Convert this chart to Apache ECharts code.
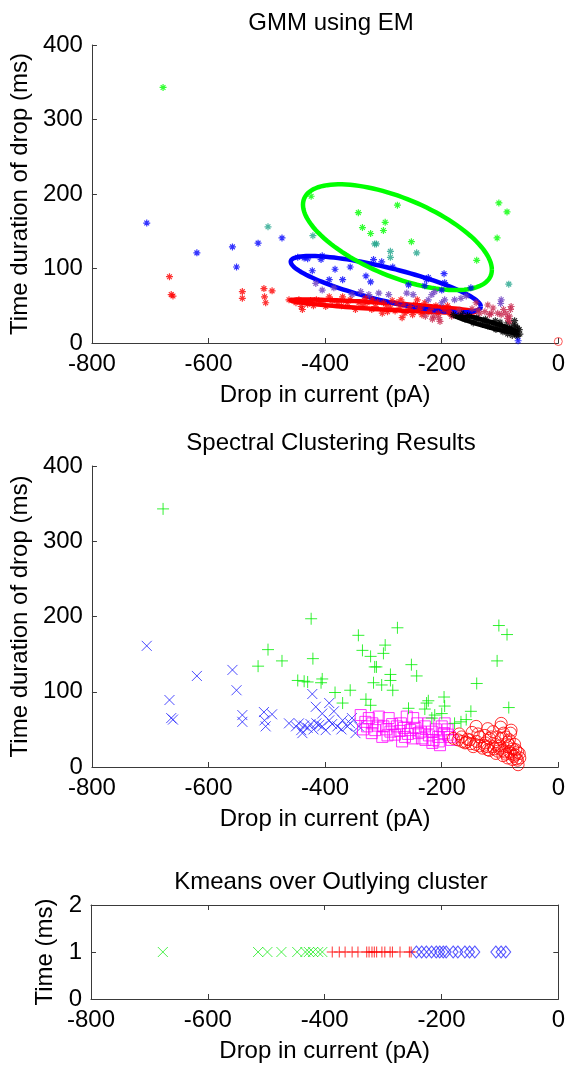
<!DOCTYPE html>
<html><head><meta charset="utf-8">
<script src="https://cdn.jsdelivr.net/npm/echarts@6/dist/echarts.min.js"></script>
<style>html,body{margin:0;padding:0;background:#fff}#c{width:568px;height:1067px}</style>
</head><body><div id="c"></div>
<script>
// ---------------- DATA ----------------
const titles = ['GMM using EM', 'Spectral Clustering Results', 'Kmeans over Outlying cluster'];
const xLabel = 'Drop in current (pA)';
const yLabelTop = 'Time duration of drop (ms)';
const yLabelBottom = 'Time (ms)';

// Points: [drop (pA), duration (ms), GMM colour code]; grouped by spectral cluster
const spectralGreen = [
  [-678,343,'G'],[-424,197,'G'],[-276,185,'G'],[-102,188,'G'],[-88,176,'G'],[-343,175,'G'],
  [-498,156,'T'],[-474,141,'B'],[-515,134,'B'],[-421,144,'T'],[-336,155,'G'],[-322,147,'G'],
  [-297,162,'G'],[-300,151,'G'],[-315,133,'T'],[-312,133,'T'],[-252,136,'G'],[-243,121,'T'],
  [-288,123,'T'],[-288,115,'T'],[-105,141,'G'],[-140,111,'G'],[-85,79,'T'],
  [-447,115,'B'],[-436,114,'B'],[-430,113,'B'],[-405,117,'B'],[-407,112,'B'],
  [-317,112,'B'],[-303,109,'B'],[-284,102,'B'],[-383,99,'B'],[-357,102,'B'],[-330,90,'B'],
  [-370,85,'B'],[-322,82,'B'],[-257,78,'B'],[-226,85,'B'],[-223,88,'B'],[-229,77,'B'],
  [-196,93,'B'],[-195,81,'B'],[-212,69,'P'],[-217,65,'P'],[-150,74,'B'],[-158,63,'P'],
  [-167,60,'P'],[-178,58,'P'],[-200,71,'B']
];
const spectralBlue = [
  [-706,161,'B'],[-620,121,'B'],[-559,129,'B'],[-552,102,'B'],[-667,89,'R'],[-664,65,'R'],
  [-661,63,'R'],[-542,69,'R'],[-542,60,'R'],[-505,73,'R'],[-491,70,'R'],[-504,62,'R'],
  [-502,54,'R'],[-462,58,'R'],[-450,54,'R'],[-441,49,'R'],[-445,58,'R'],[-439,45,'R'],
  [-422,97,'B'],[-416,80,'P'],[-405,71,'P'],[-405,54,'R'],[-393,85,'B'],[-385,74,'P'],
  [-393,62,'R'],[-379,54,'R'],[-370,62,'R'],[-354,65,'P'],[-362,54,'R'],[-348,45,'R'],
  [-410,56,'R'],[-399,49,'R'],[-342,54,'R'],[-430,52,'R'],[-420,50,'R'],[-415,58,'R'],
  [-388,57,'R'],[-372,50,'R'],[-357,58,'R'],[-436,55,'R'],[-425,57,'R']
];
const spectralMagenta = [
  [-339,69,'P'],[-325,65,'P'],[-308,67,'P'],[-291,65,'P'],[-260,67,'P'],[-249,65,'P'],
  [-328,54,'R'],[-314,49,'R'],[-300,54,'R'],[-288,47,'R'],[-277,54,'R'],[-263,40,'R'],
  [-254,49,'R'],[-240,45,'R'],[-229,54,'R'],[-217,47,'R'],[-206,40,'R'],[-203,29,'C'],
  [-189,43,'R'],[-183,36,'C'],[-214,36,'C'],[-200,54,'P'],[-302,40,'R'],[-268,34,'R'],
  [-280,43,'R'],[-234,38,'R'],[-195,58,'P'],[-319,58,'R'],[-223,58,'P'],[-335,50,'R'],
  [-320,45,'R'],[-310,55,'R'],[-295,50,'R'],[-285,57,'R'],[-272,48,'R'],[-258,44,'R'],
  [-245,52,'R'],[-236,47,'R'],[-222,42,'R'],[-210,50,'R'],[-196,45,'R'],[-186,40,'R'],
  [-270,58,'R'],[-250,38,'R'],[-216,32,'C'],[-331,60,'R'],[-293,42,'R'],[-265,52,'R'],
  [-228,36,'C'],[-205,34,'C'],[-190,50,'R'],[-242,58,'R']
];
const spectralRed = [
  [-98,58,'P'],[-141,54,'C'],[-121,51,'C'],[-81,49,'C'],[-166,40,'K'],[-152,36,'K'],
  [-135,40,'C'],[-115,40,'C'],[-98,38,'C'],[-84,36,'C'],[-146,27,'K'],[-127,29,'K'],
  [-112,27,'K'],[-101,25,'K'],[-87,27,'K'],[-73,23,'K'],[-67,18,'K'],[-70,9,'K'],
  [-69,3,'B'],[-81,18,'K'],[-92,20,'K'],[-107,18,'K'],[-121,23,'K'],[-160,32,'K'],
  [-87,12,'K'],[-76,14,'K'],[-180,38,'K'],[-172,36,'K'],[-165,34,'K'],[-158,33,'K'],
  [-150,31,'K'],[-142,30,'K'],[-135,28,'K'],[-130,25,'K'],[-122,27,'K'],[-118,22,'K'],
  [-110,24,'K'],[-104,21,'K'],[-96,22,'K'],[-90,17,'K'],[-84,20,'K'],[-78,24,'K'],
  [-74,16,'K'],[-72,11,'K'],[-70,20,'K'],[-79,10,'K'],[-95,15,'K'],[-140,34,'K'],
  [-125,32,'K'],[-108,30,'K'],[-156,37,'K'],[-100,28,'K'],[-126,42,'C'],[-118,38,'C'],
  [-104,40,'C'],[-94,45,'C'],[-82,45,'C'],[-87,33,'C'],[-84,29,'C'],[-138,44,'C'],[-99,53,'P'],
  [-170,44,'C'],[-148,46,'C'],[-112,47,'C'],[-90,40,'C'],[-75,30,'K'],[-66,12,'K']
];
const gmmExtra = [[0, 2]];   // lone red marker at the origin (plot 1)

// GMM components: mean [x, y] and covariance [sxx, sxy, syy]
const gmmMeans = [[-128, 27], [-301, 49.5], [-296, 79], [-276, 142]];
const gmmCovs  = [[3364, -754, 185], [24964, -1217, 80], [26569, -4890, 1429], [26244, -7063, 5037]];
const gmmNames = ['K', 'R', 'B', 'G'];

// K-means over the outlying cluster (x values, all drawn at time = 1)
const kmeansGreen = [-677,-514,-498,-474,-447,-433,-427,-420,-411,-404];
const kmeansRed = [-387,-375,-365,-353,-343,-328,-324,-319,-315,-311,-302,-297,-288,-284,-271,-255,-252];
const kmeansBlue = [-243,-234,-226,-217,-209,-203,-197,-192,-180,-172,-160,-152,-143,-107,-98,-90];
const kmeansY = 1;

// ---------------- STYLE ----------------
const FONT = 'Liberation Sans, Arial, sans-serif';
const FS = 24;
const gmmColors = {G:'#00ff00', T:'#23a58c', B:'#0000ff', P:'#6a3cc0', R:'#ff0000', C:'#c8284f', K:'#000000'};
const STAR = 'path://M0 5L10 5M5 0L5 10M1.6 1.6L8.4 8.4M8.4 1.6L1.6 8.4';
const PLUS = 'path://M0 5L10 5M5 0L5 10';
const CROSS = 'path://M0 0L10 10M10 0L0 10';

const gridsPos = [
  {left:91, width:470, top:45, height:298},
  {left:91, width:470, top:466, height:301},
  {left:91, width:470, top:905, height:94}
];
const axisLineStyle = {color:'#3a3a3a', width:1};
function xAx(gi, show) {
  return {
    type:'value', gridIndex:gi, min:-800, max:0, interval:200, position: show ? 'bottom' : 'top',
    axisLine:{show:true, onZero:false, lineStyle:axisLineStyle},
    axisTick:{show:true, inside:true, length:5, lineStyle:axisLineStyle},
    axisLabel:{show:show, fontSize:FS, fontFamily:FONT, color:'#000', margin:9},
    splitLine:{show:false},
    name: show ? xLabel : '', nameLocation:'middle', nameGap:40,
    nameTextStyle:{fontSize:FS, fontFamily:FONT, color:'#000'}
  };
}
function yAx(gi, max, interval, name, gap, show) {
  return {
    type:'value', gridIndex:gi, min:0, max:max, interval:interval, position: show ? 'left' : 'right',
    axisLine:{show:true, onZero:false, lineStyle:axisLineStyle},
    axisTick:{show:true, inside:true, length:5, lineStyle:axisLineStyle},
    axisLabel:{show:show, fontSize:FS, fontFamily:FONT, color:'#000', margin:9},
    splitLine:{show:false},
    name: show ? name : '', nameLocation:'middle', nameGap:gap,
    nameTextStyle:{fontSize:FS, fontFamily:FONT, color:'#000'}
  };
}

const allPoints = spectralGreen.concat(spectralBlue, spectralMagenta, spectralRed);

function openSym(sym, color, size) {
  return {symbol:sym, symbolSize:size, itemStyle:{color:'transparent', borderColor:color, borderWidth:1}};
}

const series = [
  // ----- plot 1: GMM -----
  {
    type:'scatter', xAxisIndex:0, yAxisIndex:0, symbol:STAR, symbolSize:7,
    data: allPoints.map(p => ({value:[p[0], p[1]], itemStyle:{color:'transparent', borderColor:gmmColors[p[2]], borderWidth:1.2}}))
  },
  Object.assign({type:'scatter', xAxisIndex:0, yAxisIndex:0, data:gmmExtra}, openSym('circle', '#ff3030', 8)),
  {
    type:'custom', xAxisIndex:0, yAxisIndex:0, data:gmmMeans, encode:{x:0, y:1},
    renderItem: function(params, api) {
      const i = params.dataIndex;
      const m = gmmMeans[i], c = gmmCovs[i];
      const l11 = Math.sqrt(c[0]), l21 = c[1] / l11, l22 = Math.sqrt(c[2] - l21 * l21);
      const pts = [];
      for (let k = 0; k <= 120; k++) {
        const t = k / 120 * 2 * Math.PI, ct = Math.cos(t), st = Math.sin(t);
        pts.push(api.coord([m[0] + l11 * ct, m[1] + l21 * ct + l22 * st]));
      }
      return {type:'polyline', shape:{points:pts}, style:{stroke:gmmColors[gmmNames[i]], fill:null, lineWidth:4.5}};
    }
  },
  // ----- plot 2: spectral -----
  Object.assign({type:'scatter', xAxisIndex:1, yAxisIndex:1, data:spectralBlue.map(p => [p[0], p[1]])}, openSym(CROSS, '#2020ff', 10)),
  Object.assign({type:'scatter', xAxisIndex:1, yAxisIndex:1, data:spectralMagenta.map(p => [p[0], p[1]])}, openSym('rect', '#ff00ff', 11)),
  Object.assign({type:'scatter', xAxisIndex:1, yAxisIndex:1, data:spectralRed.map(p => [p[0], p[1]])}, openSym('circle', '#ff0000', 12)),
  Object.assign({type:'scatter', xAxisIndex:1, yAxisIndex:1, data:spectralGreen.map(p => [p[0], p[1]])}, openSym(PLUS, '#00ee00', 12)),
  // ----- plot 3: kmeans -----
  Object.assign({type:'scatter', xAxisIndex:2, yAxisIndex:2, data:kmeansGreen.map(x => [x, kmeansY])}, openSym(CROSS, '#22ee22', 10)),
  Object.assign({type:'scatter', xAxisIndex:2, yAxisIndex:2, data:kmeansRed.map(x => [x, kmeansY])}, openSym(PLUS, '#ff0000', 11)),
  Object.assign({type:'scatter', xAxisIndex:2, yAxisIndex:2, data:kmeansBlue.map(x => [x, kmeansY])}, openSym('diamond', '#3030ff', [10, 12]))
];
series.forEach(s => { s.animation = false; s.silent = true; });

const titleTops = [6, 426, 865];
const chart = echarts.init(document.getElementById('c'), null, {renderer:'canvas'});
chart.setOption({
  backgroundColor:'#ffffff',
  animation:false,
  title: titles.map((t, i) => ({
    text:t, left:326, top:titleTops[i], textAlign:'center',
    textStyle:{fontSize:FS, fontWeight:'normal', fontFamily:FONT, color:'#000'}
  })),
  grid: gridsPos,
  xAxis: [xAx(0, true), xAx(1, true), xAx(2, true), xAx(2, false)],
  yAxis: [yAx(0, 400, 100, yLabelTop, 58, true), yAx(1, 400, 100, yLabelTop, 58, true),
          yAx(2, 2, 1, yLabelBottom, 28, true), yAx(2, 2, 1, '', 0, false)],
  series: series
});
</script></body></html>
